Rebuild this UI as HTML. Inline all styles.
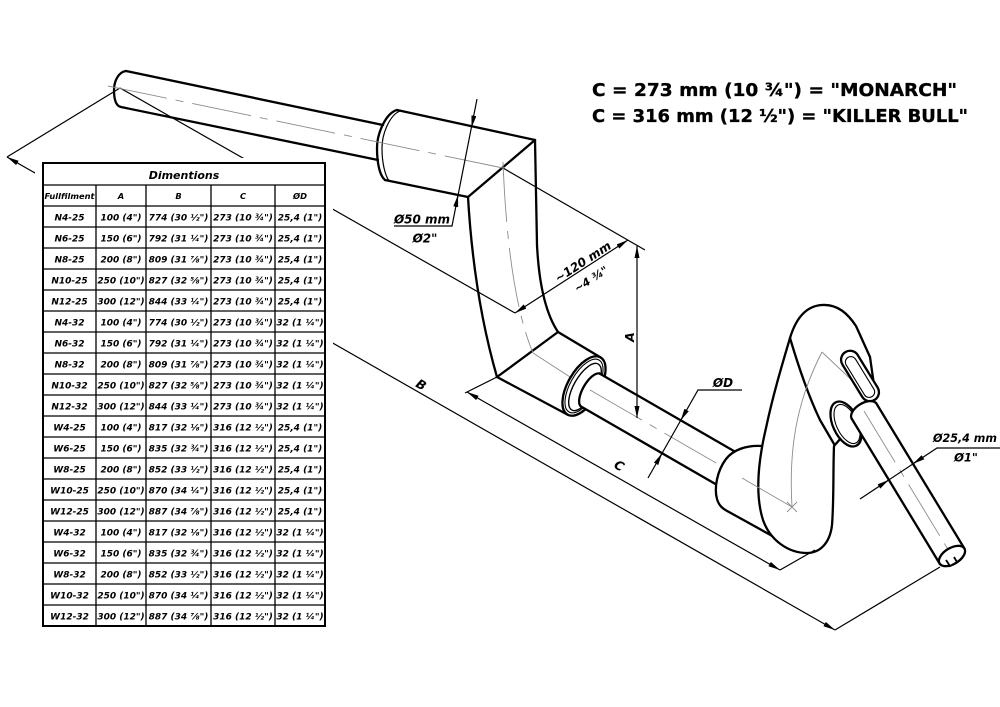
<!DOCTYPE html>
<html>
<head>
<meta charset="utf-8">
<style>
html,body{margin:0;padding:0;background:#fff;}
svg{display:block;}
.o{stroke:#000;stroke-width:2.3;fill:none;stroke-linecap:round;stroke-linejoin:round;}
.ow{stroke:#000;stroke-width:2.3;fill:#fff;stroke-linecap:round;stroke-linejoin:round;}
.d{stroke:#000;stroke-width:1.2;fill:none;}
.c{stroke:#8c8c8c;stroke-width:0.9;fill:none;stroke-dasharray:60 9 8 9;}
.cs{stroke:#8c8c8c;stroke-width:0.9;fill:none;}
.t{font-family:"DejaVu Sans","Liberation Sans",sans-serif;font-weight:bold;font-style:oblique;fill:#000;}
.h{font-family:"DejaVu Sans","Liberation Sans",sans-serif;font-weight:bold;fill:#000;stroke:#000;stroke-width:0.35;}
</style>
</head>
<body>
<svg width="1000" height="707" viewBox="0 0 1000 707" xmlns="http://www.w3.org/2000/svg">
<defs>
<marker id="ar" viewBox="0 0 12 5" refX="12" refY="2.5" markerWidth="12" markerHeight="5" markerUnits="userSpaceOnUse" orient="auto-start-reverse">
<path d="M0,0 L12,2.5 L0,5 Z" fill="#000"/>
</marker>
</defs>
<rect width="1000" height="707" fill="#fff"/>

<!-- Lines behind the table -->
<line class="d" x1="7" y1="157" x2="835" y2="630" marker-start="url(#ar)" marker-end="url(#ar)"/>
<line class="d" x1="7" y1="157" x2="120" y2="88"/>
<line class="d" x1="835" y1="630" x2="940" y2="567"/>
<line class="d" x1="120" y1="88" x2="515" y2="313"/>
<line class="d" x1="503" y1="168" x2="645" y2="250"/>

<!-- TABLE -->
<rect x="35" y="158" width="298" height="476" fill="#fff"/>
<rect x="43" y="163" width="282" height="463" fill="#fff" stroke="#000" stroke-width="2"/>
<g stroke="#000" stroke-width="1.3">
<line x1="43" y1="185" x2="325" y2="185"/>
<line x1="43" y1="206" x2="325" y2="206"/>
<line x1="43" y1="227" x2="325" y2="227"/>
<line x1="43" y1="248" x2="325" y2="248"/>
<line x1="43" y1="269" x2="325" y2="269"/>
<line x1="43" y1="290" x2="325" y2="290"/>
<line x1="43" y1="311" x2="325" y2="311"/>
<line x1="43" y1="332" x2="325" y2="332"/>
<line x1="43" y1="353" x2="325" y2="353"/>
<line x1="43" y1="374" x2="325" y2="374"/>
<line x1="43" y1="395" x2="325" y2="395"/>
<line x1="43" y1="416" x2="325" y2="416"/>
<line x1="43" y1="437" x2="325" y2="437"/>
<line x1="43" y1="458" x2="325" y2="458"/>
<line x1="43" y1="479" x2="325" y2="479"/>
<line x1="43" y1="500" x2="325" y2="500"/>
<line x1="43" y1="521" x2="325" y2="521"/>
<line x1="43" y1="542" x2="325" y2="542"/>
<line x1="43" y1="563" x2="325" y2="563"/>
<line x1="43" y1="584" x2="325" y2="584"/>
<line x1="43" y1="605" x2="325" y2="605"/>
<line x1="96" y1="185" x2="96" y2="626"/>
<line x1="146" y1="185" x2="146" y2="626"/>
<line x1="211" y1="185" x2="211" y2="626"/>
<line x1="275" y1="185" x2="275" y2="626"/>
</g>
<text class="t" x="184" y="179" font-size="11" text-anchor="middle">Dimentions</text>
<g class="t" text-anchor="middle">
<text y="199" font-size="8.3"><tspan x="69.5">Fullfilment</tspan><tspan x="121">A</tspan><tspan x="178.5">B</tspan><tspan x="243">C</tspan><tspan x="300">ØD</tspan></text>
</g>
<g class="t" text-anchor="middle" font-size="9">
<text y="220.3"><tspan x="69.5">N4-25</tspan><tspan x="121">100 (4")</tspan><tspan x="178.5">774 (30 ½")</tspan><tspan x="243">273 (10 ¾")</tspan><tspan x="300">25,4 (1")</tspan></text>
<text y="241.3"><tspan x="69.5">N6-25</tspan><tspan x="121">150 (6")</tspan><tspan x="178.5">792 (31 ¼")</tspan><tspan x="243">273 (10 ¾")</tspan><tspan x="300">25,4 (1")</tspan></text>
<text y="262.3"><tspan x="69.5">N8-25</tspan><tspan x="121">200 (8")</tspan><tspan x="178.5">809 (31 ⅞")</tspan><tspan x="243">273 (10 ¾")</tspan><tspan x="300">25,4 (1")</tspan></text>
<text y="283.3"><tspan x="69.5">N10-25</tspan><tspan x="121">250 (10")</tspan><tspan x="178.5">827 (32 ⅝")</tspan><tspan x="243">273 (10 ¾")</tspan><tspan x="300">25,4 (1")</tspan></text>
<text y="304.3"><tspan x="69.5">N12-25</tspan><tspan x="121">300 (12")</tspan><tspan x="178.5">844 (33 ¼")</tspan><tspan x="243">273 (10 ¾")</tspan><tspan x="300">25,4 (1")</tspan></text>
<text y="325.3"><tspan x="69.5">N4-32</tspan><tspan x="121">100 (4")</tspan><tspan x="178.5">774 (30 ½")</tspan><tspan x="243">273 (10 ¾")</tspan><tspan x="300">32 (1 ¼")</tspan></text>
<text y="346.3"><tspan x="69.5">N6-32</tspan><tspan x="121">150 (6")</tspan><tspan x="178.5">792 (31 ¼")</tspan><tspan x="243">273 (10 ¾")</tspan><tspan x="300">32 (1 ¼")</tspan></text>
<text y="367.3"><tspan x="69.5">N8-32</tspan><tspan x="121">200 (8")</tspan><tspan x="178.5">809 (31 ⅞")</tspan><tspan x="243">273 (10 ¾")</tspan><tspan x="300">32 (1 ¼")</tspan></text>
<text y="388.3"><tspan x="69.5">N10-32</tspan><tspan x="121">250 (10")</tspan><tspan x="178.5">827 (32 ⅝")</tspan><tspan x="243">273 (10 ¾")</tspan><tspan x="300">32 (1 ¼")</tspan></text>
<text y="409.3"><tspan x="69.5">N12-32</tspan><tspan x="121">300 (12")</tspan><tspan x="178.5">844 (33 ¼")</tspan><tspan x="243">273 (10 ¾")</tspan><tspan x="300">32 (1 ¼")</tspan></text>
<text y="430.3"><tspan x="69.5">W4-25</tspan><tspan x="121">100 (4")</tspan><tspan x="178.5">817 (32 ⅛")</tspan><tspan x="243">316 (12 ½")</tspan><tspan x="300">25,4 (1")</tspan></text>
<text y="451.3"><tspan x="69.5">W6-25</tspan><tspan x="121">150 (6")</tspan><tspan x="178.5">835 (32 ¾")</tspan><tspan x="243">316 (12 ½")</tspan><tspan x="300">25,4 (1")</tspan></text>
<text y="472.3"><tspan x="69.5">W8-25</tspan><tspan x="121">200 (8")</tspan><tspan x="178.5">852 (33 ½")</tspan><tspan x="243">316 (12 ½")</tspan><tspan x="300">25,4 (1")</tspan></text>
<text y="493.3"><tspan x="69.5">W10-25</tspan><tspan x="121">250 (10")</tspan><tspan x="178.5">870 (34 ¼")</tspan><tspan x="243">316 (12 ½")</tspan><tspan x="300">25,4 (1")</tspan></text>
<text y="514.3"><tspan x="69.5">W12-25</tspan><tspan x="121">300 (12")</tspan><tspan x="178.5">887 (34 ⅞")</tspan><tspan x="243">316 (12 ½")</tspan><tspan x="300">25,4 (1")</tspan></text>
<text y="535.3"><tspan x="69.5">W4-32</tspan><tspan x="121">100 (4")</tspan><tspan x="178.5">817 (32 ⅛")</tspan><tspan x="243">316 (12 ½")</tspan><tspan x="300">32 (1 ¼")</tspan></text>
<text y="556.3"><tspan x="69.5">W6-32</tspan><tspan x="121">150 (6")</tspan><tspan x="178.5">835 (32 ¾")</tspan><tspan x="243">316 (12 ½")</tspan><tspan x="300">32 (1 ¼")</tspan></text>
<text y="577.3"><tspan x="69.5">W8-32</tspan><tspan x="121">200 (8")</tspan><tspan x="178.5">852 (33 ½")</tspan><tspan x="243">316 (12 ½")</tspan><tspan x="300">32 (1 ¼")</tspan></text>
<text y="598.3"><tspan x="69.5">W10-32</tspan><tspan x="121">250 (10")</tspan><tspan x="178.5">870 (34 ¼")</tspan><tspan x="243">316 (12 ½")</tspan><tspan x="300">32 (1 ¼")</tspan></text>
<text y="619.3"><tspan x="69.5">W12-32</tspan><tspan x="121">300 (12")</tspan><tspan x="178.5">887 (34 ⅞")</tspan><tspan x="243">316 (12 ½")</tspan><tspan x="300">32 (1 ¼")</tspan></text>
</g>

<!-- HEADINGS -->
<text class="h" x="592" y="96" font-size="18" textLength="365" lengthAdjust="spacingAndGlyphs">C = 273 mm (10 ¾") = "MONARCH"</text>
<text class="h" x="592" y="122" font-size="18" textLength="376" lengthAdjust="spacingAndGlyphs">C = 316 mm (12 ½") = "KILLER BULL"</text>

<!-- GRIP TUBE -->
<path class="o" d="M126,71 L383,125"/>
<path class="o" d="M121,107 L378,160"/>
<path class="o" d="M126,71 C118,72 114,82 114,90 C114,99 116,106 121,107"/>

<!-- UPPER SLEEVE -->
<path class="o" d="M397,110 C386,113 377,133 377,148 C377,164 380,176 385,180"/>
<path d="M400,111 C390,115 382,133 382,148 C382,163 385,175 389,181" stroke="#000" stroke-width="1.2" fill="none"/>
<path class="o" d="M397,110 L535,140"/>
<path class="o" d="M385,180 L468,197"/>
<path class="o" d="M535,140 L468,197"/>

<!-- BEND -->
<path class="o" d="M535,140 L537,245 Q540,305 558,332"/>
<path class="o" d="M468,197 C472,265 482,325 497,377"/>
<path class="o" d="M497,377 L558,332"/>
<path class="o" d="M558,332 L600.5,357.4"/>
<path class="o" d="M497,377 L567.5,414.6"/>

<!-- centerlines upper -->
<path class="c" d="M108,86 L503,168"/>
<path class="c" d="M503,162 C506,240 515,310 533,353"/>
<path class="cs" d="M533,353 L584,386"/>

<!-- RING 1 -->
<ellipse class="ow" cx="584" cy="386" rx="16" ry="33" transform="rotate(30 584 386)"/>
<ellipse cx="584" cy="386" rx="13.5" ry="30" transform="rotate(30 584 386)" fill="none" stroke="#000" stroke-width="1.1"/>
<ellipse cx="585" cy="387" rx="11" ry="26.5" transform="rotate(30 585 387)" fill="none" stroke="#000" stroke-width="1.4"/>

<!-- ROD 1 -->
<path d="M599.5,373.5 L738,453.4 L720,486.6 L581,406.5 A8,19 30 0 1 599.5,373.5 Z" fill="#fff"/>
<path class="o" d="M599.5,373.5 L738,453.4"/>
<path class="o" d="M581,406.5 L720,486.6"/>
<path class="o" d="M599.5,373.5 A8,19 30 0 0 581,406.5"/>
<path class="c" d="M590,390 L742,478"/>

<!-- CAP -->
<path d="M762,446 C746,445 733,450 726,459 C717,471 714,488 717,499 C719,506 723,509 729,512 L790,546 L790,446 Z" fill="#fff"/>
<path class="o" d="M762,446 C746,445 733,450 726,459 C717,471 714,488 717,499 C719,506 723,509 729,512 L785,543"/>

<!-- ARM -->
<path class="ow" d="M807,553 C788,553 770,540 763,520 C755,495 758,462 766,428 C773,395 782,365 790,338 C796,318 806,306 822,305 C838,304 848,314 856,326 L870,357 L874,385 L866,412 L848,430 L834,446 C833,470 834,500 832,525 C830,543 820,553 807,553 Z"/>
<path class="o" d="M790,338 C798,365 808,395 820,420 L834,444"/>
<path class="cs" d="M742,478 L792,507"/>
<path class="cs" d="M787,502 L797,512 M797,502 L787,512"/>
<path class="cs" d="M792,507 C788,440 800,395 822,352"/>
<path class="cs" d="M822,352 L860,388"/>

<!-- SLOT -->
<rect class="ow" x="-28" y="-9" width="56" height="18" rx="9" transform="translate(860,376) rotate(58.5)"/>
<rect x="-23" y="-5.5" width="46" height="11" rx="5.5" transform="translate(860,377) rotate(58.5)" fill="none" stroke="#000" stroke-width="1.1"/>

<!-- RING 2 -->
<ellipse class="ow" cx="846" cy="424" rx="13" ry="24" transform="rotate(-25 846 424)"/>
<ellipse cx="847" cy="424" rx="10.5" ry="21" transform="rotate(-25 847 424)" fill="none" stroke="#000" stroke-width="1.1"/>

<!-- ROD 2 -->
<path d="M851.6,418.5 A14.5,8 -31.3 0 1 876.4,403.5 L964.4,548.5 L939.6,563.5 Z" fill="#fff"/>
<path class="o" d="M851.6,418.5 L939.6,563.5"/>
<path class="o" d="M876.4,403.5 L964.4,548.5"/>
<path class="o" d="M851.6,418.5 A14.5,8 -31.3 0 1 876.4,403.5"/>
<path class="c" d="M864,411 L952,556"/>
<ellipse class="ow" cx="952" cy="556" rx="14.5" ry="8" transform="rotate(-31.3 952 556)" stroke-width="2.6"/>
<path d="M946,560 L950,566 L957,562 L954,557" fill="#fff" stroke="#000" stroke-width="1.8"/>

<!-- DIMENSIONS -->
<line class="d" x1="515" y1="313" x2="628" y2="240" marker-start="url(#ar)" marker-end="url(#ar)"/>
<line class="d" x1="637" y1="246" x2="637" y2="418" marker-start="url(#ar)" marker-end="url(#ar)"/>
<line class="d" x1="467" y1="392" x2="780" y2="570" marker-start="url(#ar)" marker-end="url(#ar)"/>
<line class="d" x1="465" y1="393" x2="497" y2="377"/>
<line class="d" x1="780" y1="570" x2="815" y2="550"/>

<!-- Ø50 -->
<polyline class="d" points="477,99 452,226 394,226"/>
<line class="d" x1="473.9" y1="115.7" x2="471.6" y2="127.5" marker-end="url(#ar)"/>
<line class="d" x1="455.7" y1="206.8" x2="458" y2="195" marker-end="url(#ar)"/>
<text class="t" x="422" y="223.5" font-size="12" text-anchor="middle">Ø50 mm</text>
<text class="t" x="425" y="242.5" font-size="12" text-anchor="middle">Ø2"</text>

<!-- ØD -->
<polyline class="d" points="648,478 698,390 742,390"/>
<line class="d" x1="656.1" y1="463.8" x2="662" y2="453.4" marker-end="url(#ar)"/>
<line class="d" x1="686.6" y1="410" x2="680.7" y2="420.4" marker-end="url(#ar)"/>
<text class="t" x="723" y="387" font-size="12" text-anchor="middle">ØD</text>

<!-- Ø25,4 -->
<polyline class="d" points="860,499 937,448 1000,448"/>
<line class="d" x1="878.9" y1="486.5" x2="888.9" y2="479.9" marker-end="url(#ar)"/>
<line class="d" x1="923" y1="457.2" x2="913" y2="463.8" marker-end="url(#ar)"/>
<text class="t" x="933" y="442" font-size="11.5" textLength="64" lengthAdjust="spacingAndGlyphs">Ø25,4 mm</text>
<text class="t" x="966" y="461.5" font-size="11.5" text-anchor="middle">Ø1"</text>

<!-- labels -->
<text class="t" x="583" y="266" font-size="12" text-anchor="middle" transform="rotate(-33 583 262)">~120 mm</text>
<text class="t" x="591" y="283" font-size="11" text-anchor="middle" transform="rotate(-33 591 279)">~4 ¾"</text>
<text class="t" x="630" y="341" font-size="12.5" text-anchor="middle" transform="rotate(-90 630 337)">A</text>
<text class="t" x="421" y="389" font-size="12.5" text-anchor="middle" transform="rotate(30 421 385)">B</text>
<text class="t" x="619" y="470" font-size="12.5" text-anchor="middle" transform="rotate(30 619 466)">C</text>
</svg>
</body>
</html>
